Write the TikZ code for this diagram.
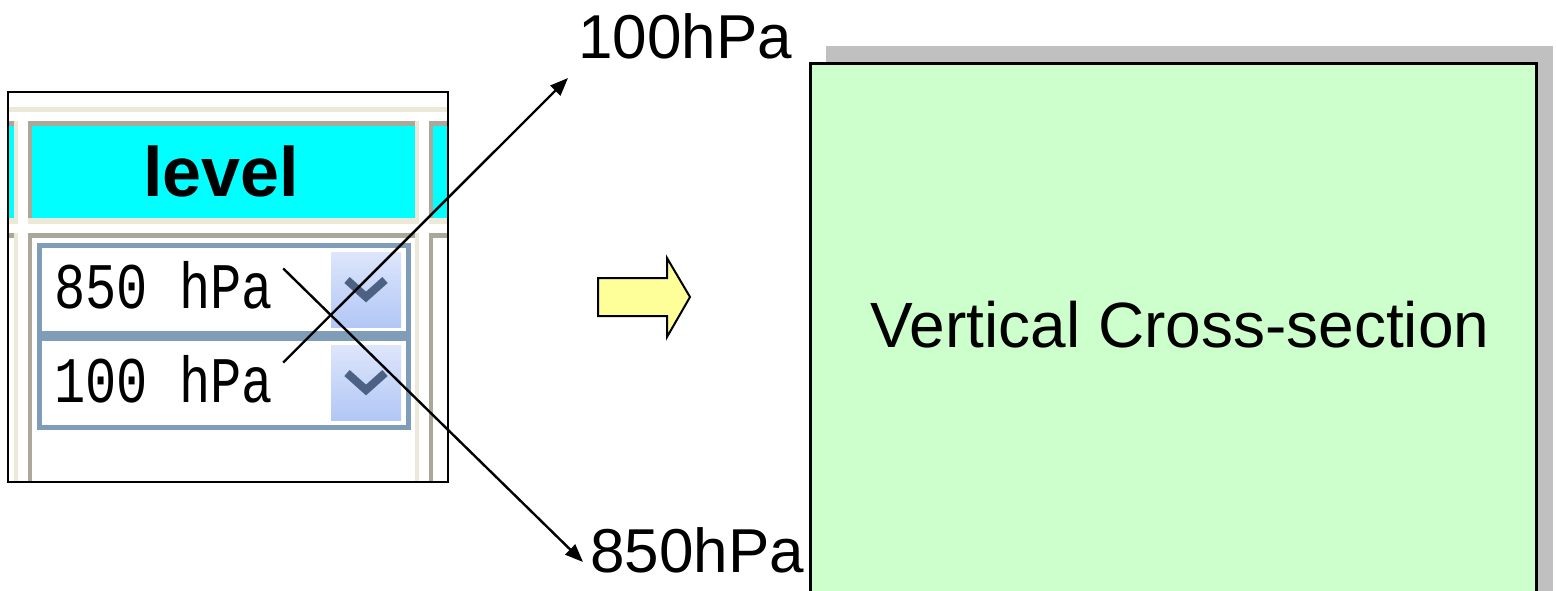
\documentclass[tikz,border=0pt]{standalone}
\usepackage{fontspec}
\setmainfont{Liberation Sans}
\setmonofont{Liberation Mono}
\usepackage{graphicx}
\usepackage{tikz}
\usetikzlibrary{arrows.meta,positioning,calc}
\usepackage{xcolor}
\definecolor{cellgray}{HTML}{ACA899}
\definecolor{cellcream}{HTML}{ECE9D8}
\definecolor{headcyan}{HTML}{00FFFF}
\definecolor{combo}{HTML}{7F9DB9}
\definecolor{btnlight}{HTML}{DDE6FB}
\definecolor{btnblue}{HTML}{B2C7F6}
\definecolor{chev}{HTML}{4D6185}
\definecolor{xgreen}{HTML}{CCFFCC}
\definecolor{xshadow}{HTML}{C0C0C0}
\definecolor{hint}{HTML}{FFFF99}

% one table cell: x1,y1,x2,y2,fill
\newcommand{\gridcell}[5]{%
  \fill[#5] (#1,#2) rectangle (#3,#4);
  \fill[cellgray] (#1,#2) rectangle (#3,#2+5);
  \fill[cellgray] (#1,#2) rectangle (#1+4,#4);
  \fill[cellcream] (#1,#4-6) rectangle (#3,#4);
  \fill[cellcream] (#3-4,#2) rectangle (#3,#4);}

\begin{document}
\begin{tikzpicture}[x=0.5pt,y=-0.5pt,
  link/.style={draw,line width=1.2pt,-{Triangle[length=9pt,width=7pt]}},
  biglabel/.style={anchor=base west,inner sep=0pt,font=\fontsize{31}{36}\selectfont},
  pixtext/.style={anchor=base west,inner sep=0pt,font=\fontsize{26}{30}\ttfamily}]
\clip (0,0) rectangle (1556,590);
\fill[white] (0,0) rectangle (1556,590);

% level widget
\begin{scope}
\clip (8,92) rectangle (448,482);
\fill[white] (8,92) rectangle (448,482);
\fill[cellcream] (8,107) rectangle (448,112);
\gridcell{-20}{121}{17.5}{224}{headcyan}
\gridcell{28}{121}{419}{224}{headcyan}
\gridcell{429}{121}{470}{224}{headcyan}
\gridcell{-20}{233}{17.5}{520}{white}
\gridcell{28}{233}{419}{520}{white}
\gridcell{429}{233}{470}{520}{white}
\fill[combo] (37,243) rectangle (411,430);
\foreach \y/\h in {248/331,341/425}{
  \fill[white] (42,\y) rectangle (406,\h);}
\foreach \y in {252,345}{
  \shade[top color=btnlight,bottom color=btnblue] (331,\y) rectangle (401,\y+75);
  \draw[chev,line width=4pt] (347,\y+28) -- (366,\y+45) -- (385,\y+28);}
\end{scope}
\draw[line width=1pt] (8,92) rectangle (448,482);
\node[anchor=base,inner sep=0pt,font=\fontsize{35}{40}\bfseries] (lvl) at (221,196) {level};
\node[pixtext] (t850) at (54,308) {\scalebox{1}[1.25]{850 hPa}};
\node[pixtext] (t100) at (54,402) {\scalebox{1}[1.25]{100 hPa}};

% result panel
\fill[xshadow] (826,46) rectangle (1553,600);
\draw[fill=xgreen,line width=1.5pt] (810,63) rectangle (1536,600);
\node[anchor=base,inner sep=0pt,font=\fontsize{32}{37}\selectfont] (xsec) at (1180,347) {Vertical Cross-section};

% hint arrow
\draw[fill=hint,line width=1pt,line join=miter] (598,278) -- (667,278) -- (667,258) -- (690,297)
  -- (667,337) -- (667,316) -- (598,316) -- cycle;

% level labels
\node[biglabel] (lab100) at (578,58) {100hPa};
\node[biglabel] (lab850) at (590,572) {850hPa};
\coordinate (tip100) at (568,78);
\coordinate (tip850) at (583,562);
\draw[link] ([shift={(5pt,-4pt)}]t850.north east) -- (tip850);
\draw[link] ([shift={(5pt,-4pt)}]t100.north east) -- (tip100);
\end{tikzpicture}
\end{document}
